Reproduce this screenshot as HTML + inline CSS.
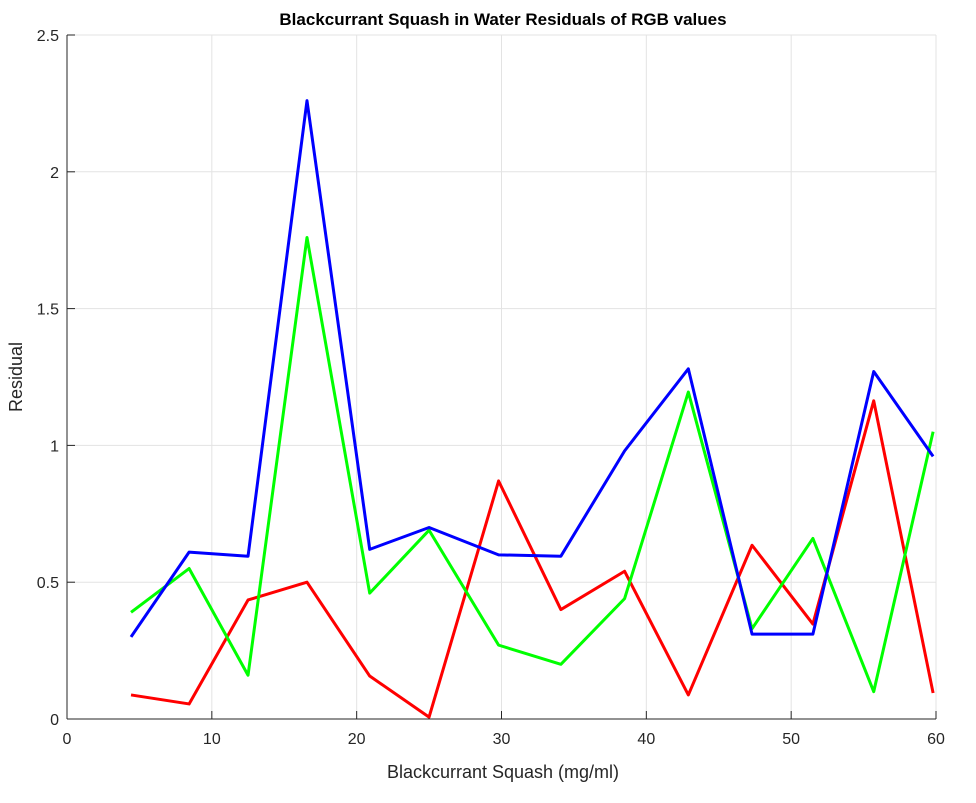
<!DOCTYPE html>
<html><head><meta charset="utf-8"><style>
body{margin:0;background:#fff;font-family:"Liberation Sans",sans-serif}
</style></head><body>
<svg id="chart" width="976" height="798" xmlns="http://www.w3.org/2000/svg">
<rect width="976" height="798" fill="#fff"/>
<g id="grid"></g><g id="series"></g><g id="axes"></g>
<text x="503" y="25" text-anchor="middle" font-size="17" font-weight="bold" fill="#000">Blackcurrant Squash in Water Residuals of RGB values</text>
<text x="503" y="778" text-anchor="middle" font-size="18" fill="#262626">Blackcurrant Squash (mg/ml)</text>
<text transform="translate(22,377) rotate(-90)" text-anchor="middle" font-size="18" fill="#262626">Residual</text>
</svg>
<script>
const xVals=[4.42,8.43,12.5,16.57,20.9,25.0,29.8,34.1,38.5,42.9,47.3,51.5,55.7,59.8];
const blueVals=[0.30,0.61,0.595,2.26,0.62,0.70,0.60,0.595,0.98,1.28,0.31,0.31,1.27,0.96];
const greenVals=[0.39,0.55,0.16,1.76,0.46,0.69,0.27,0.20,0.44,1.195,0.33,0.66,0.10,1.05];
const redVals=[0.088,0.055,0.435,0.50,0.157,0.007,0.87,0.40,0.54,0.088,0.635,0.347,1.163,0.095];
const xTicks=[0,10,20,30,40,50,60];
const yTicks=[0,0.5,1,1.5,2,2.5];
const L=67,R=936,T=35,B=719;
const sx=v=>L+(v/60)*(R-L), sy=v=>B-(v/2.5)*(B-T);
const NS="http://www.w3.org/2000/svg";
function mk(tag,attrs,parent){const e=document.createElementNS(NS,tag);for(const k in attrs)e.setAttribute(k,attrs[k]);parent.appendChild(e);return e;}
const grid=document.getElementById('grid'),axes=document.getElementById('axes'),series=document.getElementById('series');
xTicks.forEach(t=>{
 const g=mk('line',{x1:sx(t),x2:sx(t),y1:T,y2:B,stroke:'#e3e3e3','stroke-width':1},grid);
 
 
 const k=mk('line',{x1:sx(t),x2:sx(t),y1:B,y2:B-8,stroke:'#262626'},axes);
 
 
 const tx=mk('text',{x:sx(t),y:B+25,'text-anchor':'middle','font-size':16,fill:'#262626'},axes);
 tx.textContent=t;
 
 
});
yTicks.forEach(t=>{
 const g=mk('line',{x1:L,x2:R,y1:sy(t),y2:sy(t),stroke:'#e3e3e3','stroke-width':1},grid);
 
 
 const k=mk('line',{x1:L,x2:L+8,y1:sy(t),y2:sy(t),stroke:'#262626'},axes);
 
 
 const tx=mk('text',{x:L-8,y:sy(t)+6,'text-anchor':'end','font-size':16,fill:'#262626'},axes);
 tx.textContent=t;
 
 
});
const xa=mk('line',{x1:L,x2:R,y1:B,y2:B,stroke:'#262626'},axes);


const ya=mk('line',{x1:L,x2:L,y1:T,y2:B,stroke:'#262626'},axes);


[[redVals,'#ff0000','red-series'],[greenVals,'#00ff00','green-series'],[blueVals,'#0000ff','blue-series']].forEach(([vals,c,n])=>{
 const p=mk('polyline',{points:vals.map((v,i)=>sx(xVals[i])+','+sy(v)).join(' '),fill:'none',stroke:c,'stroke-width':3,'stroke-linejoin':'round'},series);
 
 
});
</script>
</body></html>
